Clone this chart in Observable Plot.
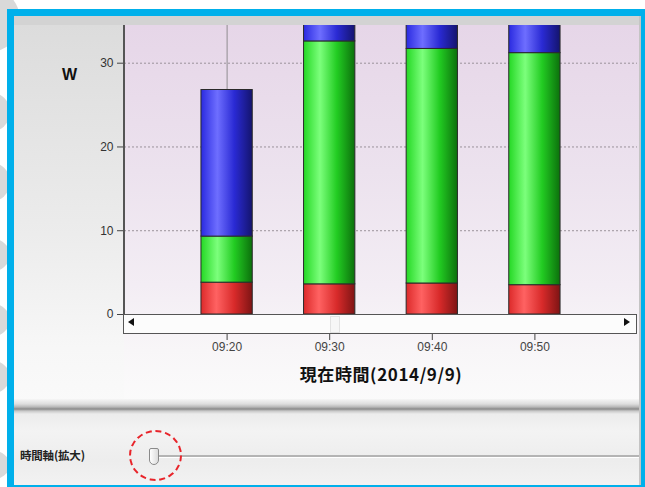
<!DOCTYPE html>
<html>
<head>
<meta charset="utf-8">
<script src="https://cdn.jsdelivr.net/npm/d3@7"></script>
<script src="https://cdn.jsdelivr.net/npm/@observablehq/plot@0.6"></script>
<style>
  html, body { margin: 0; padding: 0; width: 645px; height: 487px; overflow: hidden; background: #ffffff; }
  body { position: relative; font-family: "Liberation Sans", Arial, sans-serif; }
  .abs { position: absolute; }
  .blob { position: absolute; background: #d9d9d9; border-radius: 50%; }
  #frame { left: 7px; top: 9px; width: 627px; height: 469px; border: 7px solid #00b0eb; background: #efefef; }
  #chart { left: 14px; top: 25px; }
  #chart svg { display: block; overflow: visible; }
  .cjk { font-family: "Noto Sans CJK JP", "Noto Sans CJK SC", sans-serif; }
</style>
</head>
<body>
<svg width="0" height="0" style="position:absolute">
  <defs>
    <linearGradient id="gR" x1="0" x2="1" y1="0" y2="0">
      <stop offset="0" stop-color="#dc2a2a"/>
      <stop offset="0.3" stop-color="#ff6262"/>
      <stop offset="0.65" stop-color="#d82a2a"/>
      <stop offset="1" stop-color="#7e1414"/>
    </linearGradient>
    <linearGradient id="gG" x1="0" x2="1" y1="0" y2="0">
      <stop offset="0" stop-color="#24d824"/>
      <stop offset="0.32" stop-color="#7cff7c"/>
      <stop offset="0.65" stop-color="#22cc22"/>
      <stop offset="1" stop-color="#0c700c"/>
    </linearGradient>
    <linearGradient id="gB" x1="0" x2="1" y1="0" y2="0">
      <stop offset="0" stop-color="#2a2ae0"/>
      <stop offset="0.32" stop-color="#6e6eff"/>
      <stop offset="0.65" stop-color="#2a2ad4"/>
      <stop offset="1" stop-color="#14146e"/>
    </linearGradient>
  </defs>
</svg>

<!-- decorative background blobs left of the frame -->
<div class="blob" style="left:-40px; top:-12px; width:60px; height:64px;"></div>
<div class="blob" style="left:-30px; top:92px; width:40px; height:40px;"></div>
<div class="blob" style="left:-30px; top:162px; width:40px; height:40px;"></div>
<div class="blob" style="left:-30px; top:238px; width:40px; height:34px;"></div>
<div class="blob" style="left:-30px; top:303px; width:40px; height:34px;"></div>
<div class="blob" style="left:-30px; top:360px; width:40px; height:34px;"></div>
<div class="blob" style="left:-30px; top:450px; width:40px; height:30px;"></div>

<div id="frame" class="abs"></div>
<div class="abs" style="left:14px; top:16px; width:627px; height:9px; background:#d3d3d3;"></div>
<div class="abs" style="left:14px; top:25px; width:110px; height:380px; background:linear-gradient(to bottom,#dcdcdc,#ececec 55%,#f7f7f7 85%,#fafafa);"></div>
<div class="abs" style="left:124px; top:25px; width:515px; height:325px; background:linear-gradient(to bottom,#e6d6e8,#ece2ee 45%,#f3edf4 80%,#f8f6f8);"></div>
<div class="abs" style="left:124px; top:350px; width:515px; height:55px; background:linear-gradient(to bottom,#f8f6f8,#fbfbfb);"></div>
<div class="abs" style="left:14px; top:399px; width:625px; height:86px; background:linear-gradient(to bottom,#f6f6f6 0px,#dedede 5px,#b8b8b8 8px,#8a8a8a 10px,#c8c8c8 12px,#ececec 15px,#f3f3f3 32px,#ededed 62px,#f2f2f2);"></div>
<div class="abs" style="left:639px; top:16px; width:2px; height:469px; background:#c4c4c4;"></div>

<div id="chart" class="abs"></div>

<!-- left axis line & scrollbar -->
<div class="abs" style="left:123px; top:25px; width:1.5px; height:309px; background:#555;"></div>
<div class="abs" style="left:124px; top:313.5px; width:512px; height:18px; background:#fcfcfc; border-top:1.5px solid #555; border-bottom:1.5px solid #555; border-right:1.5px solid #555;"></div>
<div class="abs" style="left:330px; top:316px; width:8px; height:15px; border:1px solid #e2e2e2; background:#f6f6f6;"></div>
<div class="abs" style="left:128px; top:318px; width:0; height:0; border-top:4.5px solid transparent; border-bottom:4.5px solid transparent; border-right:6px solid #111;"></div>
<div class="abs" style="left:624px; top:318px; width:0; height:0; border-top:4.5px solid transparent; border-bottom:4.5px solid transparent; border-left:6px solid #111;"></div>

<div class="abs" style="left:62px; top:66px; font-weight:bold; font-size:16px; color:#111;">W</div>
<div class="abs cjk" style="left:271px; width:220px; text-align:center; top:361px; font-weight:bold; font-size:17px; color:#111; letter-spacing:0.6px;">現在時間(2014/9/9)</div>

<!-- zoom slider -->
<div class="abs cjk" style="left:20px; top:447px; font-size:11.5px; font-weight:bold; color:#222; letter-spacing:-0.2px;">時間軸(拡大)</div>
<div class="abs" style="left:158px; top:455px; width:481px; height:1.5px; background:#b4b4b4; border-bottom:1px solid #fff;"></div>
<div class="abs" style="left:149px; top:448px; width:8px; height:15px; border:1px solid #8a8a8a; border-radius:2px 2px 5px 5px; background:linear-gradient(to right,#ffffff,#dcdcdc);"></div>
<div class="abs" style="left:129px; top:430px; width:49px; height:47px; border:2.5px dashed #e8242a; border-radius:50%;"></div>

<script>
// ---- data ----
const day = "2014-09-09";
const times = ["09:20", "09:30", "09:40", "09:50"];
const seriesNames = ["R", "G", "B"];
const redValues = [3.8, 3.6, 3.7, 3.5];
const greenValues = [5.5, 29.0, 28.0, 27.7];
const blueValues = [17.5, 17.0, 17.0, 17.0];
const yTicks = [0, 10, 20, 30];
const xTicks = ["09:20", "09:30", "09:40", "09:50"];
const xDomain = ["09:10", "10:00"];
const yMax = 34.5;
const cursorTime = "09:20";

const toDate = t => new Date(`${day}T${t}:00Z`);
const halfBar = 2.5 * 60 * 1000;

const rows = [];
times.forEach((t, i) => {
  [redValues[i], greenValues[i], blueValues[i]].forEach((v, j) => {
    rows.push({ time: toDate(t), series: seriesNames[j], value: v });
  });
});

const chart = Plot.plot({
  width: 625,
  height: 370,
  marginLeft: 110,
  marginRight: 2,
  marginTop: 0,
  marginBottom: 81,
  style: { background: "transparent", fontFamily: "Liberation Sans, Arial, sans-serif", fontSize: "12px", color: "#333" },
  x: { type: "utc", domain: xDomain.map(toDate) },
  y: { domain: [0, yMax] },
  color: { domain: seriesNames, range: ["url(#gR)", "url(#gG)", "url(#gB)"] },
  marks: [
    Plot.ruleY(yTicks.filter(d => d > 0), { stroke: "#9a929a", strokeDasharray: "2,2", strokeWidth: 1 }),
    Plot.ruleX([toDate(cursorTime)], { stroke: "#7a7a7a", strokeWidth: 0.8 }),
    Plot.rectY(rows, Plot.stackY({
      x1: d => new Date(+d.time - halfBar),
      x2: d => new Date(+d.time + halfBar),
      y: "value",
      fill: "series",
      stroke: "#2a2a2a",
      strokeWidth: 1,
      clip: true
    })),
    Plot.axisY({ ticks: yTicks, tickSize: 7, tickPadding: 4, label: null, stroke: "#444", fill: "#333" }),
    Plot.axisX({ ticks: xTicks.map(toDate), tickFormat: d3.utcFormat("%H:%M"), tickSize: 7, tickPadding: 2, dy: 19, label: null, stroke: "#444", fill: "#444" })
  ]
});
document.getElementById("chart").appendChild(chart);
</script>
</body>
</html>
